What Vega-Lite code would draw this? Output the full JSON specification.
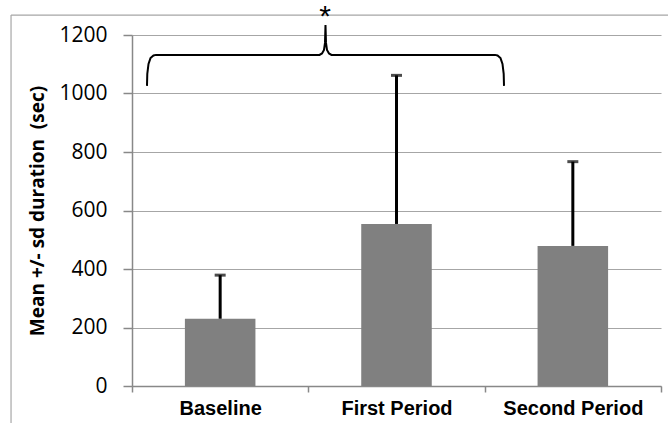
{
  "$schema": "https://vega.github.io/schema/vega-lite/v6.json",
  "autosize": "none",
  "width": 529,
  "height": 351,
  "padding": {"left": 132, "top": 35, "right": 7, "bottom": 37},
  "background": "white",
  "config": {
    "view": {"stroke": null},
    "axis": {"domainColor": "#888888", "tickColor": "#888888", "labelColor": "#000000", "titleColor": "#000000"},
    "axisY": {
      "titleFont": "Open Sans",
      "titleFontWeight": "bold",
      "titleFontSize": 19,
      "titlePadding": 11,
      "labelFont": "Open Sans",
      "labelFontSize": 21,
      "labelPadding": 16,
      "tickSize": 9,
      "tickWidth": 1.5,
      "domainWidth": 1.5,
      "grid": true,
      "gridColor": "#a6a6a6",
      "gridWidth": 1.2
    }
  },
  "datasets": {
    "bars": [
      {"period": "Baseline", "mean": 230, "top": 379},
      {"period": "First Period", "mean": 554, "top": 1062},
      {"period": "Second Period", "mean": 479, "top": 767}
    ],
    "brace": [
      {"i": 1, "u": 0.085, "v": 1026},
      {"i": 2, "u": 0.0867, "v": 1067},
      {"i": 3, "u": 0.0936, "v": 1101},
      {"i": 4, "u": 0.1049, "v": 1121},
      {"i": 5, "u": 0.1219, "v": 1130},
      {"i": 6, "u": 0.1361, "v": 1132},
      {"i": 7, "u": 1.0633, "v": 1132},
      {"i": 8, "u": 1.0775, "v": 1137},
      {"i": 9, "u": 1.0888, "v": 1149},
      {"i": 10, "u": 1.0945, "v": 1173},
      {"i": 11, "u": 1.0973, "v": 1234},
      {"i": 12, "u": 1.1002, "v": 1173},
      {"i": 13, "u": 1.1058, "v": 1149},
      {"i": 14, "u": 1.1172, "v": 1137},
      {"i": 15, "u": 1.1313, "v": 1132},
      {"i": 16, "u": 2.0586, "v": 1132},
      {"i": 17, "u": 2.0728, "v": 1130},
      {"i": 18, "u": 2.0898, "v": 1121},
      {"i": 19, "u": 2.1011, "v": 1101},
      {"i": 20, "u": 2.1079, "v": 1067},
      {"i": 21, "u": 2.1097, "v": 1026}
    ],
    "frame": [
      {"u": -0.686, "u2": -0.686, "v": 1268, "v2": -150},
      {"u": -0.686, "u2": 3.2, "v": 1268, "v2": 1268}
    ],
    "note": [
      {"u": 1.0945, "v": 1230, "label": "*"}
    ]
  },
  "layer": [
    {
      "data": {"name": "bars"},
      "encoding": {
        "x": {
          "field": "period",
          "type": "nominal",
          "sort": null,
          "scale": {"paddingInner": 0, "paddingOuter": 0},
          "axis": {
            "title": null,
            "labelAngle": 0,
            "labelFont": "Liberation Sans",
            "labelFontWeight": "bold",
            "labelFontSize": 20,
            "labelPadding": 6,
            "tickBand": "extent",
            "tickSize": 6,
            "domainWidth": 1.5,
            "tickWidth": 1.5
          }
        }
      },
      "layer": [
        {
          "mark": {"type": "bar", "color": "#808080", "width": {"band": 0.4}},
          "encoding": {
            "y": {
              "field": "mean",
              "type": "quantitative",
              "scale": {"domain": [0, 1200], "nice": false, "zero": true},
              "axis": {"values": [0, 200, 400, 600, 800, 1000, 1200], "format": "d", "title": "Mean +/- sd duration \u00a0(sec)"}
            }
          }
        },
        {
          "mark": {"type": "rule", "color": "#000000", "strokeWidth": 3},
          "encoding": {
            "y": {"field": "mean", "type": "quantitative", "axis": {"values": [0, 200, 400, 600, 800, 1000, 1200], "format": "d", "title": "Mean +/- sd duration \u00a0(sec)"}},
            "y2": {"field": "top"}
          }
        },
        {
          "mark": {"type": "tick", "color": "#000000", "size": 11, "thickness": 3},
          "encoding": {
            "y": {"field": "top", "type": "quantitative", "axis": {"values": [0, 200, 400, 600, 800, 1000, 1200], "format": "d", "title": "Mean +/- sd duration \u00a0(sec)"}}
          }
        }
      ]
    },
    {
      "layer": [
        {
          "data": {"name": "frame"},
          "mark": {"type": "rule", "color": "#a6a6a6", "strokeWidth": 1.2},
          "encoding": {
            "x": {"field": "u", "type": "quantitative", "scale": {"domain": [0, 3], "nice": false, "zero": false}, "axis": null},
            "x2": {"field": "u2"},
            "y": {"field": "v", "type": "quantitative", "axis": {"values": [0, 200, 400, 600, 800, 1000, 1200], "format": "d", "title": "Mean +/- sd duration \u00a0(sec)"}},
            "y2": {"field": "v2"}
          }
        },
        {
          "data": {"name": "brace"},
          "mark": {"type": "line", "color": "#000000", "strokeWidth": 2, "interpolate": "linear"},
          "encoding": {
            "x": {"field": "u", "type": "quantitative", "axis": null},
            "y": {"field": "v", "type": "quantitative", "axis": {"values": [0, 200, 400, 600, 800, 1000, 1200], "format": "d", "title": "Mean +/- sd duration \u00a0(sec)"}},
            "order": {"field": "i", "type": "quantitative"}
          }
        },
        {
          "data": {"name": "note"},
          "mark": {"type": "text", "font": "Liberation Sans", "fontSize": 30, "baseline": "alphabetic", "align": "center", "color": "#000000"},
          "encoding": {
            "x": {"field": "u", "type": "quantitative", "axis": null},
            "y": {"field": "v", "type": "quantitative", "axis": {"values": [0, 200, 400, 600, 800, 1000, 1200], "format": "d", "title": "Mean +/- sd duration \u00a0(sec)"}},
            "text": {"field": "label"}
          }
        }
      ]
    }
  ],
  "resolve": {"scale": {"x": "independent"}, "axis": {"x": "independent"}}
}
